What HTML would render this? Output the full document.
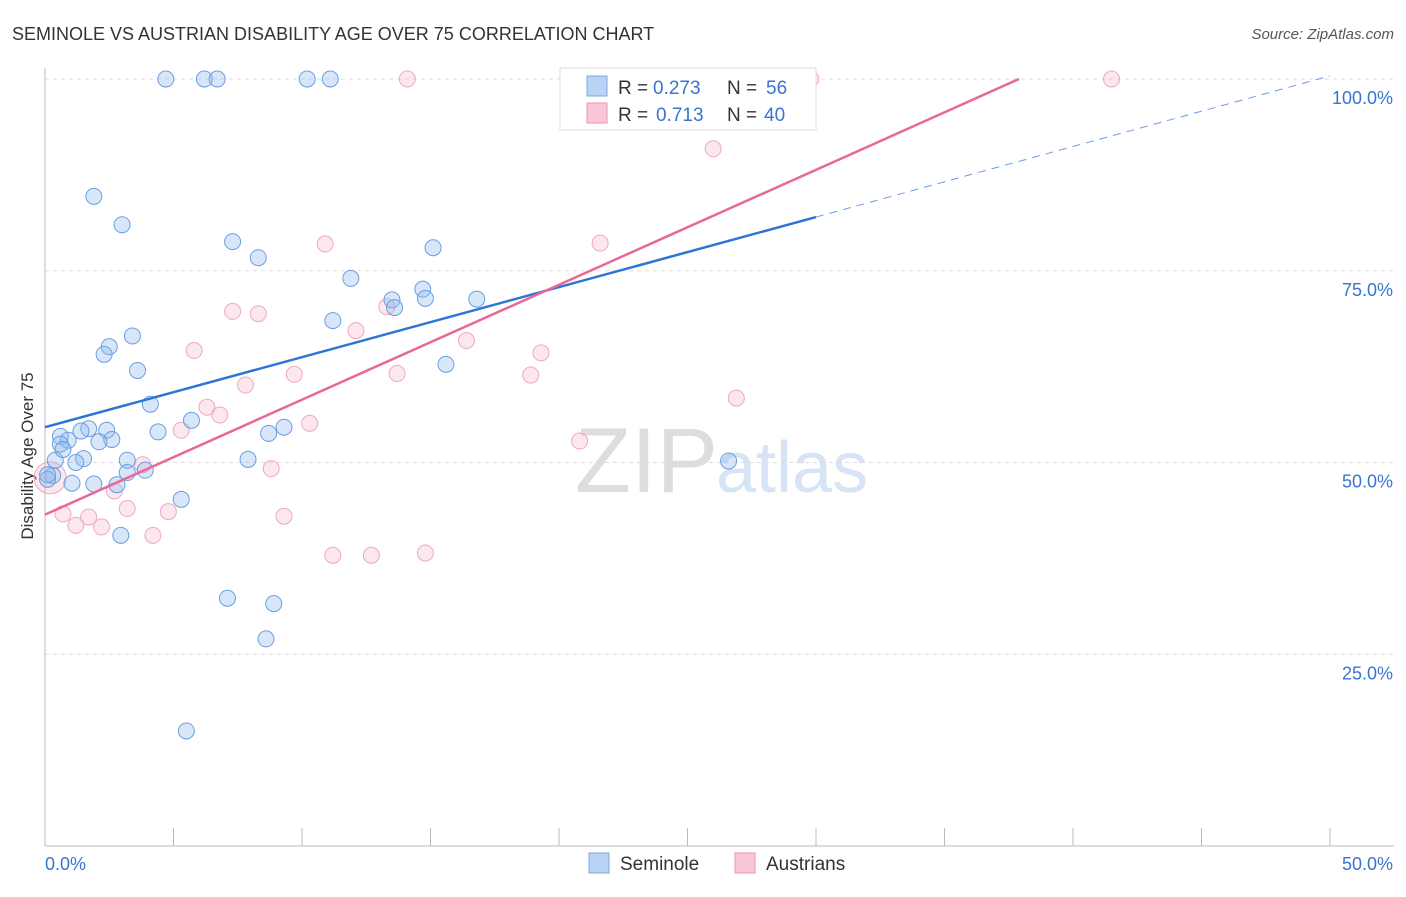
<!DOCTYPE html>
<html><head><meta charset="utf-8"><style>
body{margin:0;background:#fff;font-family:"Liberation Sans",sans-serif;}
svg text{font-family:"Liberation Sans",sans-serif;}
</style></head><body>
<svg id="c" width="1406" height="892" xmlns="http://www.w3.org/2000/svg">
<text x="12" y="40" font-size="18" fill="#333">SEMINOLE VS AUSTRIAN DISABILITY AGE OVER 75 CORRELATION CHART</text>
<text x="1394" y="39" font-size="15" fill="#555" font-style="italic" text-anchor="end">Source: ZipAtlas.com</text>
<text x="33" y="456" font-size="17" fill="#333" text-anchor="middle" transform="rotate(-90 33 456)">Disability Age Over 75</text>
<text x="718" y="492" font-size="92" fill="#ddd" text-anchor="end" font-family="Liberation Serif">ZIP</text>
<text x="716" y="492" font-size="72" fill="#d6e4f5">atlas</text>
<g id="grid"></g><g id="axes"></g><g id="pts"></g><g id="lines"></g>
<g>
<rect x="560" y="68" width="256" height="62" fill="#fff" stroke="#ddd"/>
<rect x="587" y="76" width="20" height="20" fill="#b8d3f3" stroke="#7aa8e0"/>
<rect x="587" y="103" width="20" height="20" fill="#f8c8d6" stroke="#ec93ae"/>
<text x="618" y="94" font-size="19" fill="#333">R =</text>
<text x="653" y="94" font-size="19" fill="#3a74d0">0.273</text>
<text x="727" y="94" font-size="19" fill="#333">N =</text>
<text x="766" y="94" font-size="19" fill="#3a74d0">56</text>
<text x="618" y="121" font-size="19" fill="#333">R =</text>
<text x="656" y="121" font-size="19" fill="#3a74d0">0.713</text>
<text x="727" y="121" font-size="19" fill="#333">N =</text>
<text x="764" y="121" font-size="19" fill="#3a74d0">40</text>
</g>
<g>
<rect x="589" y="853" width="20" height="20" fill="#b8d3f3" stroke="#7aa8e0"/>
<text x="620" y="870" font-size="19" fill="#333">Seminole</text>
<rect x="735" y="853" width="20" height="20" fill="#f8c8d6" stroke="#ec93ae"/>
<text x="766" y="870" font-size="19" fill="#333">Austrians</text>
</g>
</svg>
<script>
const yTicks=[25,50,75,100];
const yTickLabels=["25.0%","50.0%","75.0%","100.0%"];
const xTickLabels=["0.0%","50.0%"];
const seminoleX=[4.7,6.2,6.7,10.2,11.1,1.9,3.0,7.3,8.3,15.1,11.9,14.7,13.5,14.8,13.6,16.8,11.2,3.4,2.5,2.3,3.6,15.6,4.1,5.7,4.4,9.3,8.7,0.6,0.9,1.7,1.4,2.4,2.6,2.1,0.4,1.5,1.2,3.2,7.9,3.9,3.2,0.3,0.1,1.05,2.8,1.9,5.3,2.95,7.1,8.9,8.6,5.5,26.6,0.6,0.1,0.7];
const seminoleY=[100,100,100,100,100,84.7,81.0,78.8,76.7,78.0,74.0,72.6,71.2,71.4,70.2,71.3,68.5,66.5,65.1,64.1,62.0,62.8,57.6,55.5,54.0,54.6,53.8,53.4,52.9,54.4,54.1,54.2,53.0,52.7,50.3,50.5,50.0,50.3,50.4,49.0,48.7,48.3,47.8,47.3,47.1,47.2,45.2,40.5,32.3,31.6,27.0,15.0,50.2,52.4,48.4,51.7];
const austX=[14.1,23.9,29.8,41.5,26.0,10.9,21.6,7.3,8.3,13.3,12.1,5.8,16.4,19.3,9.7,13.7,18.9,7.8,6.3,6.8,5.3,10.3,26.9,20.8,3.8,8.8,2.7,3.2,4.8,0.7,1.7,1.2,2.2,4.2,9.3,11.2,12.7,14.8,0.2];
const austY=[100,100,100,100,90.9,78.5,78.6,69.7,69.4,70.3,67.2,64.6,65.9,64.3,61.5,61.6,61.4,60.1,57.2,56.2,54.2,55.1,58.4,52.8,49.7,49.2,46.3,44.0,43.6,43.3,42.9,41.8,41.6,40.5,43.0,37.9,37.9,38.2,48.0];
const austR=[8,8,8,8,8,8,8,8,8,8,8,8,8,8,8,8,8,8,8,8,8,8,8,8,8,8,8,8,8,8,8,8,8,8,8,8,8,8,16];
const blueLine=[[0,54.6],[30,82.0],[50,100.4]];
const pinkLine=[[0,43.2],[37.9,100]];
const X=v=>45+v/50*1285, Y=v=>846-v/100*767;
const NS="http://www.w3.org/2000/svg";
function mk(p,t,a){const e=document.createElementNS(NS,t);for(const k in a)e.setAttribute(k,a[k]);document.getElementById(p).appendChild(e);return e;}
yTicks.forEach((t,i)=>{
 const g=mk('grid','line',{x1:45,x2:1394,y1:Y(t),y2:Y(t),stroke:'#ddd','stroke-dasharray':'4,4'});
 
 
 const l=mk('axes','text',{x:1393,y:Y(t)+25,'font-size':18,fill:'#3a74d0','text-anchor':'end'});l.textContent=yTickLabels[i];
 
 
});
let a=mk('axes','line',{x1:45,x2:45,y1:68,y2:846,stroke:'#bbb'});


a=mk('axes','line',{x1:45,x2:1394,y1:846,y2:846,stroke:'#bbb'});


for(let i=0;i<=10;i++){const t=mk('axes','line',{x1:X(i*5),x2:X(i*5),y1:828,y2:846,stroke:'#bbb'});
 
 }
let xl=mk('axes','text',{x:45,y:870,'font-size':18,fill:'#3a74d0'});xl.textContent=xTickLabels[0];


xl=mk('axes','text',{x:1393,y:870,'font-size':18,fill:'#3a74d0','text-anchor':'end'});xl.textContent=xTickLabels[1];


austX.forEach((x,i)=>{const c=mk('pts','circle',{cx:X(x),cy:Y(austY[i]),r:austR[i],fill:'rgba(244,160,188,0.25)',stroke:'#f0a8c0','stroke-width':1});
 
 });
seminoleX.forEach((x,i)=>{const c=mk('pts','circle',{cx:X(x),cy:Y(seminoleY[i]),r:8,fill:'rgba(140,185,238,0.35)',stroke:'#6a9fe0','stroke-width':1});
 
 });
let ln=mk('lines','line',{x1:X(blueLine[0][0]),y1:Y(blueLine[0][1]),x2:X(blueLine[1][0]),y2:Y(blueLine[1][1]),stroke:'#2c74d6','stroke-width':2.5});


ln=mk('lines','line',{x1:X(blueLine[1][0]),y1:Y(blueLine[1][1]),x2:X(blueLine[2][0]),y2:Y(blueLine[2][1]),stroke:'#6a9de0','stroke-width':1,'stroke-dasharray':'8,6'});


ln=mk('lines','line',{x1:X(pinkLine[0][0]),y1:Y(pinkLine[0][1]),x2:X(pinkLine[1][0]),y2:Y(pinkLine[1][1]),stroke:'#e8689a','stroke-width':2.5});


</script>
</body></html>
